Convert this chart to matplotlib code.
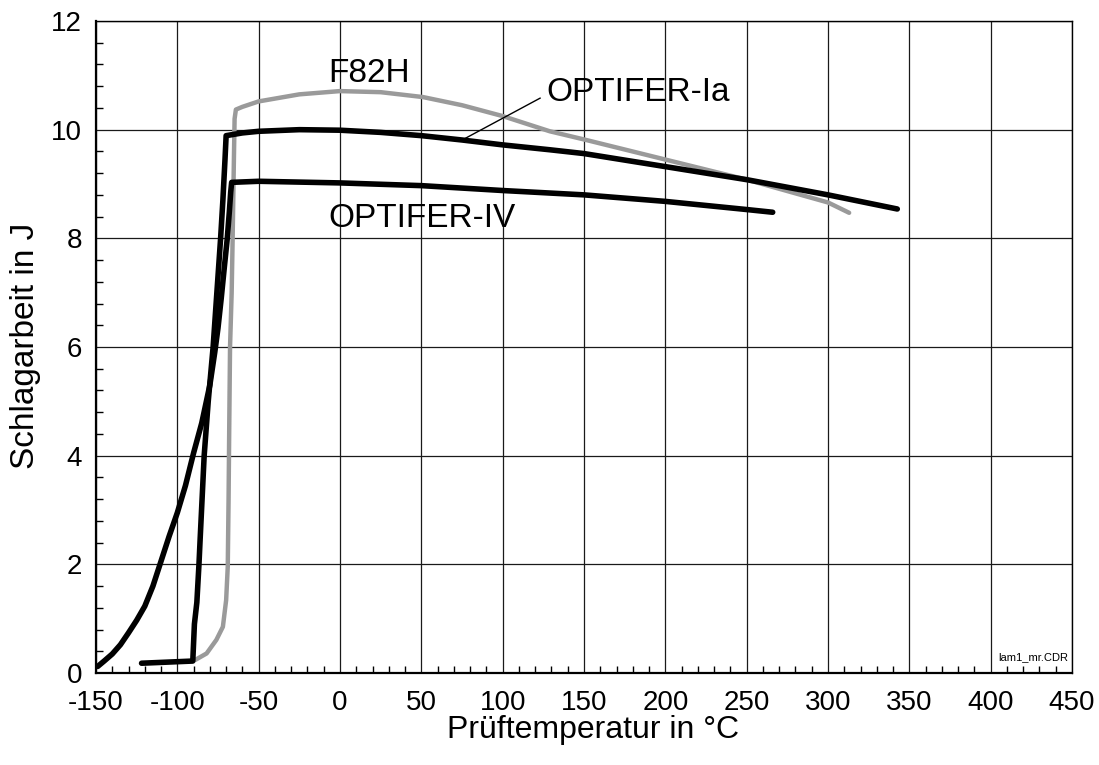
import matplotlib
matplotlib.use("Agg")
import matplotlib.pyplot as plt
from matplotlib.ticker import MultipleLocator

plt.rcParams['font.family'] = ['Liberation Sans', 'DejaVu Sans']
plt.rcParams['axes.unicode_minus'] = False

# Data
f82h_x = [-89, -82, -76, -72, -70, -69, -68.5, -68.1, -67.6, -66.6, -66, -65.2,
          -64.8, -64, -60, -50, -25, 0, 25, 51, 75, 100, 129, 150, 200, 250, 300, 313]
f82h_y = [0.24, 0.36, 0.61, 0.85, 1.34, 1.96, 3.2, 4.5, 6.0, 7.0, 8.0, 9.5,
          10.2, 10.37, 10.42, 10.52, 10.65, 10.71, 10.69, 10.6, 10.45, 10.25, 9.97, 9.82, 9.45, 9.08, 8.66, 8.47]

ia_x = [-122, -90.5, -89.5, -88, -86.7, -86, -83.5, -81, -78, -75.7, -73.4, -72,
        -70.7, -70, -60, -50, -25, 0, 25, 50, 75, 100, 129, 150, 200, 250, 300, 342.6]
ia_y = [0.18, 0.22, 0.9, 1.3, 2.0, 2.45, 4.0, 5.0, 6.0, 7.0, 8.0, 8.7,
        9.45, 9.89, 9.94, 9.97, 10.0, 9.99, 9.95, 9.89, 9.81, 9.72, 9.63, 9.56, 9.32, 9.08, 8.8, 8.54]

iv_x = [-149, -145, -140, -135, -130, -125, -120, -115, -110, -105, -100, -95, -90,
        -85, -80, -77, -75, -73, -71, -69.3, -68, -67.2, -66.6, -50, 0, 50, 100,
        150, 200, 250, 266]
iv_y = [0.12, 0.22, 0.35, 0.52, 0.74, 0.97, 1.23, 1.6, 2.06, 2.52, 2.95, 3.45, 4.05,
        4.6, 5.3, 5.9, 6.35, 6.9, 7.5, 8.0, 8.5, 8.85, 9.03, 9.05, 9.02, 8.97, 8.88,
        8.8, 8.68, 8.53, 8.48]

x_ticks = [-150, -100, -50, 0, 50, 100, 150, 200, 250, 300, 350, 400, 450]
y_ticks = [0, 2, 4, 6, 8, 10, 12]

fig = plt.figure(figsize=(10.99, 7.65), dpi=100)
ax = fig.add_axes([96/1099, (765-673)/765, 976/1099, 652/765])

ax.set_xlim(-150, 450)
ax.set_ylim(0, 12)
ax.set_xticks(x_ticks)
ax.set_yticks(y_ticks)
ax.set_xticklabels([str(v) for v in x_ticks])
ax.set_yticklabels([str(v) for v in y_ticks])
ax.xaxis.set_minor_locator(MultipleLocator(10))
ax.yaxis.set_minor_locator(MultipleLocator(0.4))
ax.tick_params(which='both', direction='in', top=False, right=False)
ax.tick_params(which='major', length=0, labelsize=20, pad=10)
ax.tick_params(axis='x', which='major', pad=12)
ax.tick_params(which='minor', length=5, width=1, color='black')
ax.grid(True, which='major', color='#1a1a1a', lw=0.9)
ax.set_axisbelow(True)
for side in ['left', 'bottom']:
    ax.spines[side].set_linewidth(1.6)
for side in ['top', 'right']:
    ax.spines[side].set_linewidth(1.0)

ax.plot(f82h_x, f82h_y, color='#9a9a9a', lw=3.2, solid_capstyle='round', solid_joinstyle='round', zorder=3)
ax.plot(ia_x, ia_y, color='black', lw=4.0, solid_capstyle='round', solid_joinstyle='round', zorder=4)
ax.plot(iv_x, iv_y, color='black', lw=4.0, solid_capstyle='round', solid_joinstyle='round', zorder=4)

ax.text(-7.4, 10.87, 'F82H', fontsize=24, ha='left', va='baseline')
ax.text(127, 10.52, 'OPTIFER-Ia', fontsize=24, ha='left', va='baseline')
ax.text(-7.4, 8.2, 'OPTIFER-IV', fontsize=24, ha='left', va='baseline')
ax.plot([123, 77], [10.58, 9.84], color='black', lw=1.0, zorder=5)
ax.text(447.5, 0.29, 'lam1_mr.CDR', fontsize=8, ha='right', va='center')

fig.text(593/1099, (765-738)/765, 'Prüftemperatur in °C', fontsize=23, ha='center', va='baseline')
fig.text(26/1099, 1 - 346/765, 'Schlagarbeit in J', fontsize=24, ha='center', va='center', rotation=90)

fig.savefig('out.png', dpi=100)
